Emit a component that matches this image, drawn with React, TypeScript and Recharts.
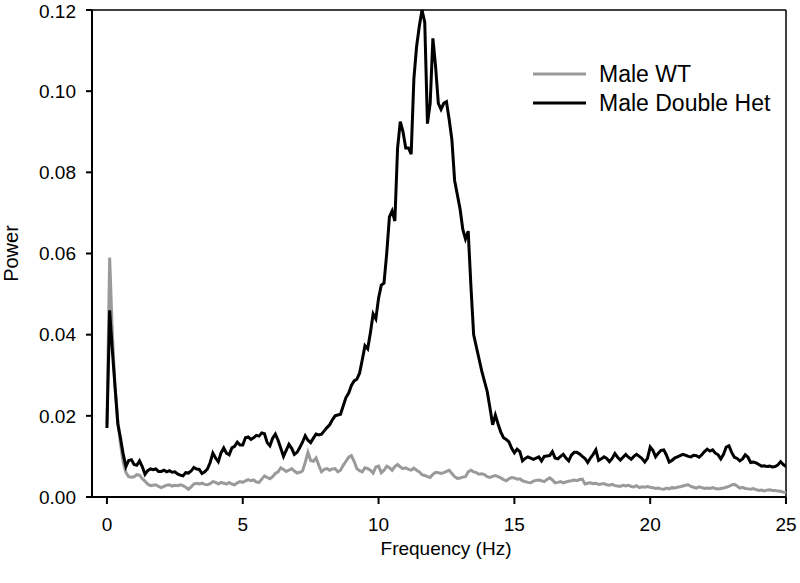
import React from "react";
import { LineChart, Line, XAxis, YAxis, ReferenceLine, Legend, Label } from "recharts";

const FONT = "'Liberation Sans', Arial, Helvetica, sans-serif";
const FREQ_STEP = 0.1;

// power spectra, one value per 0.1 Hz from 0 to 25 Hz
const maleWT = [
  0.018, 0.059, 0.04, 0.027, 0.019, 0.013, 0.0085, 0.006, 0.005, 0.0049,
  0.005, 0.0055, 0.0054, 0.0045, 0.0039, 0.0032, 0.0028, 0.0029, 0.003, 0.0026,
  0.0023, 0.0026, 0.0029, 0.003, 0.0027, 0.0029, 0.0028, 0.003, 0.0028, 0.0024,
  0.0019, 0.0025, 0.0032, 0.0034, 0.0032, 0.0034, 0.0031, 0.003, 0.0033, 0.0038,
  0.0036, 0.0032, 0.0036, 0.0034, 0.0032, 0.0036, 0.0032, 0.003, 0.0035, 0.0038,
  0.0036, 0.004, 0.0043, 0.004, 0.0042, 0.0037, 0.0036, 0.0044, 0.0052, 0.0048,
  0.0045, 0.005, 0.0058, 0.0062, 0.0072, 0.0068, 0.0063, 0.0066, 0.007, 0.0064,
  0.0059, 0.0061, 0.0064, 0.0085, 0.011, 0.009, 0.0088, 0.0096, 0.0078, 0.0062,
  0.0068, 0.007, 0.0066, 0.0069, 0.007, 0.0062, 0.0066, 0.0078, 0.0088, 0.0098,
  0.0102, 0.0088, 0.007, 0.0065, 0.0062, 0.0072, 0.007, 0.0066, 0.0059, 0.0074,
  0.0076, 0.006, 0.0066, 0.0076, 0.0072, 0.0066, 0.0075, 0.008, 0.0074, 0.007,
  0.0072, 0.0068, 0.0066, 0.0071, 0.0066, 0.0062, 0.0055, 0.0053, 0.005, 0.0048,
  0.0056, 0.0061, 0.006, 0.0058, 0.006, 0.0063, 0.0066, 0.0058, 0.005, 0.0046,
  0.0047, 0.0049, 0.005, 0.0062, 0.0066, 0.0062, 0.006, 0.0056, 0.0057, 0.0055,
  0.005, 0.0048, 0.0051, 0.0053, 0.005, 0.0047, 0.0043, 0.004, 0.0045, 0.0048,
  0.0047, 0.0044, 0.0045, 0.004, 0.0038, 0.0036, 0.0035, 0.0039, 0.0041, 0.0042,
  0.004, 0.0038, 0.0043, 0.0047, 0.0042, 0.0035, 0.0036, 0.0038, 0.0035, 0.0037,
  0.0039, 0.004, 0.0042, 0.004, 0.0043, 0.0044, 0.0032, 0.0034, 0.0035, 0.0033,
  0.0034, 0.0031, 0.0032, 0.0033, 0.003, 0.0029, 0.0031, 0.0028, 0.0027, 0.0026,
  0.0029, 0.0027, 0.0029, 0.0026, 0.0025, 0.0028, 0.0023, 0.0025, 0.0024, 0.0026,
  0.0024, 0.0023, 0.0021, 0.0022, 0.002, 0.0019, 0.0022, 0.002, 0.0023, 0.0022,
  0.0024, 0.0025, 0.0027, 0.0029, 0.003, 0.0026, 0.0024, 0.0022, 0.0025, 0.0023,
  0.0021, 0.0022, 0.0021, 0.0023, 0.0021, 0.002, 0.0021, 0.0022, 0.0024, 0.0026,
  0.003, 0.0031, 0.0027, 0.0022, 0.0024, 0.0021, 0.002, 0.0019, 0.0021, 0.0018,
  0.0016, 0.0017, 0.0015, 0.0017, 0.0018, 0.0016, 0.0016, 0.0015, 0.0014, 0.0012,
  0.0011,
];

const maleDoubleHet = [
  0.017, 0.046, 0.036, 0.027, 0.018, 0.0145, 0.0105, 0.0075, 0.009, 0.0092,
  0.008, 0.0078, 0.0089, 0.0075, 0.0056, 0.0065, 0.0069, 0.0067, 0.0069, 0.0063,
  0.0063, 0.0066, 0.0062, 0.0065, 0.0061, 0.0062, 0.0057, 0.0054, 0.0052, 0.006,
  0.0059, 0.0064, 0.0073, 0.0069, 0.0068, 0.0058, 0.0062, 0.0069, 0.0085, 0.0108,
  0.0096, 0.0087, 0.0109, 0.0121, 0.0108, 0.0104, 0.0121, 0.0125, 0.0135, 0.0128,
  0.0128, 0.0146, 0.0148, 0.0142, 0.0146, 0.0152, 0.015, 0.0158, 0.0156, 0.0134,
  0.0126, 0.0145, 0.0155, 0.014, 0.012, 0.01, 0.0115, 0.013, 0.012, 0.0105,
  0.011, 0.0122, 0.0135, 0.0151, 0.014, 0.0134, 0.0145, 0.0155, 0.0153, 0.0155,
  0.0163, 0.0171, 0.0178, 0.019, 0.02, 0.0202, 0.0204, 0.0225, 0.0245, 0.0256,
  0.0275, 0.0286, 0.029, 0.0305, 0.0338, 0.0373, 0.0365, 0.0405, 0.0451, 0.0439,
  0.049, 0.0522, 0.0527, 0.06, 0.069, 0.0705, 0.068, 0.086, 0.0925, 0.09,
  0.086, 0.086, 0.0845, 0.103, 0.111, 0.116, 0.12, 0.117, 0.092, 0.097,
  0.113, 0.106, 0.097, 0.0955, 0.097, 0.0974, 0.093, 0.088, 0.078, 0.0745,
  0.071, 0.066, 0.0636, 0.0655, 0.052, 0.04, 0.037, 0.034, 0.031, 0.0285,
  0.026, 0.022, 0.0178, 0.0202, 0.018, 0.016, 0.0146, 0.0142, 0.0136, 0.012,
  0.0109, 0.0118, 0.0112, 0.0089, 0.0095, 0.0099, 0.0096, 0.0093, 0.0096, 0.0099,
  0.0089, 0.01, 0.0101, 0.0102, 0.0112, 0.0096, 0.0094, 0.01, 0.0105, 0.0096,
  0.0089, 0.0103, 0.011, 0.011, 0.0106, 0.01, 0.0095, 0.0085, 0.0096, 0.0105,
  0.0116, 0.009, 0.0094, 0.0099, 0.0095, 0.0087, 0.0095, 0.0107, 0.0098, 0.0091,
  0.0098, 0.0105, 0.0098, 0.0093, 0.01, 0.0105, 0.01, 0.0095, 0.0086, 0.0095,
  0.0123, 0.0115, 0.0099, 0.0108, 0.0115, 0.0116, 0.0103, 0.0086, 0.009, 0.0096,
  0.0099, 0.0102, 0.0105, 0.0103, 0.01, 0.0099, 0.0103, 0.0102, 0.0098, 0.0104,
  0.0112, 0.0118, 0.0113, 0.0116, 0.0108, 0.0104, 0.0094, 0.0105, 0.0123, 0.0126,
  0.011, 0.0098, 0.0095, 0.0089, 0.0094, 0.0104, 0.0098, 0.0085, 0.0086, 0.0084,
  0.008, 0.0076, 0.0077, 0.0075, 0.0076, 0.0074, 0.0075, 0.0079, 0.0087, 0.008,
  0.0075,
];

const seriesOrder = ["wt", "het"];
const freqTicks = [0, 5, 10, 15, 20, 25];
const powerTicks = [0, 0.02, 0.04, 0.06, 0.08, 0.1, 0.12];

const frequencies = maleWT.map((_, i) => Math.round(i * FREQ_STEP * 10) / 10);
const data = frequencies.map((freq, i) => ({
  freq,
  wt: maleWT[i],
  het: maleDoubleHet[i],
}));

const XTitle = (props: any) => {
  const vb = props.viewBox;
  return (
    <text x={vb.x + vb.width / 2 + 7} y={vb.y + 58} textAnchor="middle" fontSize={19} fontFamily={FONT} fill="#000">
      Frequency (Hz)
    </text>
  );
};

const YTitle = (props: any) => {
  const vb = props.viewBox;
  const cy = vb.y + vb.height / 2;
  return (
    <text x={18} y={cy} transform={`rotate(-90, 18, ${cy})`} textAnchor="middle" fontSize={20} fontFamily={FONT} fill="#000">
      Power
    </text>
  );
};

const renderLegend = (props: any) => {
  const items = [...(props.payload || [])].sort(
    (a: any, b: any) => seriesOrder.indexOf(a.dataKey) - seriesOrder.indexOf(b.dataKey)
  );
  return (
    <svg width={260} height={60}>
      {items.map((item: any, i: number) => (
        <g key={item.value} transform={`translate(0, ${16 + i * 29})`}>
          <line x1={5} x2={58} y1={0} y2={0} stroke={item.color} strokeWidth={3} />
          <text x={71} y={0} dy="0.36em" fontSize={23} fontFamily={FONT} fill="#000">
            {item.value}
          </text>
        </g>
      ))}
    </svg>
  );
};

export default function App() {
  const tickStyle = { fill: "#000", fontSize: 19, fontFamily: FONT };
  return (
    <div style={{ position: "absolute", left: 0, top: 0, background: "#fff" }}>
      <LineChart width={800} height={583} data={data} margin={{ top: 10, right: 14, bottom: 16, left: 0 }}>
        <XAxis
          dataKey="freq"
          type="number"
          domain={[-0.55, 25]}
          ticks={freqTicks}
          allowDataOverflow
          height={70}
          tickSize={7}
          tickMargin={14}
          axisLine={{ stroke: "#000", strokeWidth: 2 }}
          tickLine={{ stroke: "#000", strokeWidth: 2 }}
          tick={tickStyle}
        >
          <Label content={XTitle} />
        </XAxis>
        <YAxis
          type="number"
          domain={[0, 0.12]}
          ticks={powerTicks}
          width={92}
          tickSize={6}
          tickMargin={10}
          tickFormatter={(v: number) => v.toFixed(2)}
          axisLine={{ stroke: "#000", strokeWidth: 2 }}
          tickLine={{ stroke: "#000", strokeWidth: 2 }}
          tick={tickStyle}
        >
          <Label content={YTitle} />
        </YAxis>
        <ReferenceLine y={0.12} stroke="#000" strokeWidth={1.5} />
        <ReferenceLine x={25} stroke="#000" strokeWidth={1.5} />
        <Line
          type="linear"
          dataKey="wt"
          name="Male WT"
          stroke="#9a9a9a"
          strokeWidth={3}
          dot={false}
          isAnimationActive={false}
        />
        <Line
          type="linear"
          dataKey="het"
          name="Male Double Het"
          stroke="#000"
          strokeWidth={3}
          dot={false}
          isAnimationActive={false}
        />
        <Legend
          layout="vertical"
          align="center"
          verticalAlign="middle"
          wrapperStyle={{ left: 528, top: 58, width: 260 }}
          content={renderLegend}
        />
      </LineChart>
    </div>
  );
}
